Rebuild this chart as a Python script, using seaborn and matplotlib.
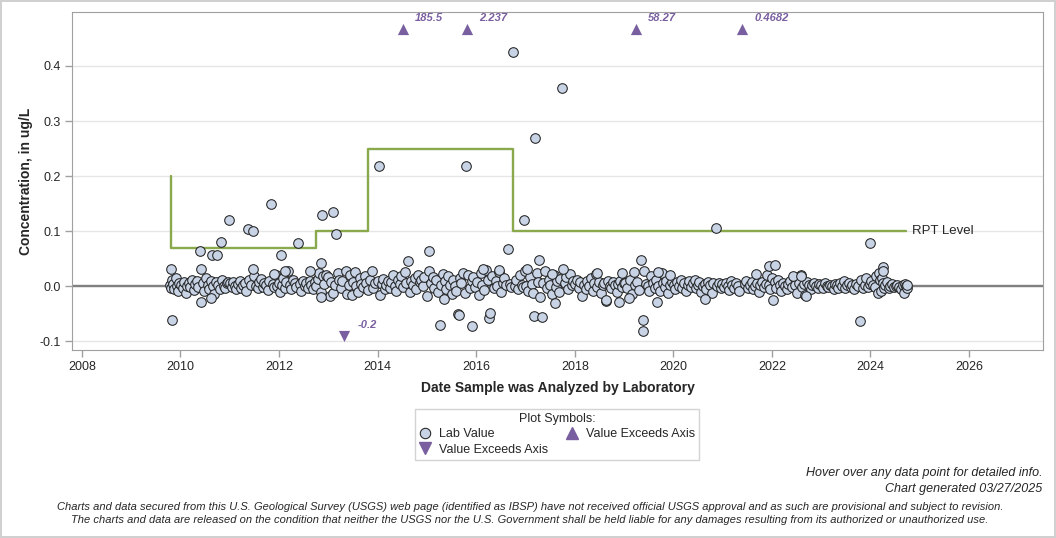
import numpy as np
import pandas as pd
import seaborn as sns
import matplotlib.pyplot as plt
from matplotlib.lines import Line2D

# ---- data (decimal years, ug/L) ----
bulk_2009_t = [2009.78, 2009.80, 2009.82, 2009.85, 2009.87, 2009.90, 2009.93, 2009.95, 2009.98]
bulk_2009_v = [0.002, -0.003, 0.011, 0.004, -0.006, 0.015, 0.001, -0.008, 0.005]
bulk_2010_t = [.02, .05, .08, .11, .14, .17, .20, .24, .27, .30, .33, .36, .45, .48, .52, .55, .58, .61, .66, .69, .72, .77, .80, .85, .88, .91, .94, .97]
bulk_2010_v = [0.003, -0.004, 0.008, -0.012, 0.001, 0.006, -0.002, 0.012, -0.007, 0.004, 0.010, -0.001, 0.005, -0.009, 0.014, 0.002, -0.005, 0.009, 0.000, -0.014, 0.007, 0.003, -0.006, 0.011, 0.001, -0.003, 0.006, 0.008]
bulk_2011_t = [.01, .04, .07, .10, .13, .17, .20, .23, .27, .30, .33, .40, .43, .50, .53, .57, .60, .63, .67, .70, .73, .77, .80, .87, .90, .93, .96, .99]
bulk_2011_v = [0.005, -0.002, 0.007, 0.001, -0.006, 0.004, 0.009, -0.003, 0.002, 0.006, -0.008, 0.011, 0.003, 0.018, 0.000, -0.004, 0.007, 0.013, -0.001, 0.005, 0.002, -0.007, 0.009, 0.004, -0.002, 0.020, 0.001, 0.006]
bulk_2012_t = [.02, .06, .09, .12, .15, .19, .22, .25, .29, .32, .35, .42, .45, .49, .52, .55, .59, .62, .65, .69, .72, .75, .79, .82, .85, .89, .92, .95]
bulk_2012_v = [-0.010, 0.003, 0.015, -0.004, 0.008, 0.027, 0.002, -0.006, 0.012, 0.005, -0.001, 0.004, -0.008, 0.009, 0.001, 0.006, -0.003, 0.010, 0.002, -0.005, 0.007, 0.000, 0.013, 0.024, -0.011, 0.018, 0.004, 0.020]
bulk_2013_t = [.00, .03, .06, .10, .13, .19, .22, .25, .28, .35, .38, .41, .44, .48, .51, .54, .57, .61, .64, .67, .71, .74, .77, .81, .84, .88, .91, .95]
bulk_2013_v = [0.016, -0.018, 0.008, -0.012, 0.002, 0.024, 0.012, -0.004, 0.009, 0.028, -0.014, 0.003, 0.021, -0.016, 0.007, 0.026, 0.001, -0.010, 0.014, 0.004, -0.002, 0.019, 0.006, -0.007, 0.011, 0.028, -0.003, 0.005]
bulk_2014_t = [.01, .05, .08, .11, .15, .18, .21, .25, .28, .31, .35, .38, .41, .45, .48, .51, .55, .58, .65, .68, .71, .75, .78, .81, .85, .88, .92, .95]
bulk_2014_v = [0.009, -0.016, 0.004, 0.013, -0.006, 0.002, 0.010, -0.003, 0.007, 0.021, 0.001, -0.008, 0.012, 0.004, 0.018, -0.002, 0.025, 0.006, -0.011, 0.009, 0.003, 0.014, -0.005, 0.020, 0.007, 0.011, 0.001, 0.016]
bulk_2015_t = [.01, .05, .08, .12, .15, .19, .22, .29, .32, .36, .39, .43, .46, .50, .53, .57, .60, .67, .70, .74, .77, .84, .87, .91, .94, .98]
bulk_2015_v = [-0.018, 0.028, 0.006, 0.017, -0.003, 0.011, -0.010, 0.002, 0.022, 0.009, -0.006, 0.019, 0.003, -0.014, 0.012, 0.000, -0.008, 0.015, 0.005, 0.024, -0.012, 0.020, -0.003, 0.009, 0.016, -0.001]
bulk_2016_t = [.02, .05, .09, .12, .16, .19, .23, .33, .36, .40, .43, .47, .50, .54, .57, .61, .68, .71, .78, .81, .85, .88, .92, .95, .99]
bulk_2016_v = [0.008, -0.016, 0.024, 0.003, -0.007, 0.030, 0.012, 0.018, -0.004, 0.009, 0.001, 0.026, -0.010, 0.006, 0.015, 0.002, 0.004, -0.002, 0.000, 0.011, -0.005, 0.020, 0.003, -0.001, 0.027]
bulk_2017_t = [.02, .06, .09, .13, .16, .23, .26, .30, .36, .40, .43, .47, .50, .54, .57, .61, .64, .68, .71, .80, .83, .87, .90, .94, .97]
bulk_2017_v = [0.001, -0.008, 0.016, 0.004, -0.013, 0.024, 0.008, -0.019, 0.006, 0.028, -0.004, 0.011, 0.002, -0.015, 0.020, -0.002, 0.009, -0.011, 0.013, 0.005, 0.017, -0.006, 0.022, 0.003, 0.010]
bulk_2018_t = [.01, .04, .08, .11, .15, .18, .22, .25, .29, .32, .36, .39, .43, .46, .50, .53, .57, .60, .64, .67, .71, .74, .78, .81, .85, .88, .92, .95, .99]
bulk_2018_v = [0.004, 0.012, -0.003, 0.007, -0.017, 0.002, -0.006, 0.009, 0.001, 0.014, -0.009, 0.005, 0.022, -0.002, 0.008, -0.013, 0.003, 0.006, -0.027, 0.010, 0.000, -0.004, 0.007, 0.002, -0.011, 0.004, 0.009, -0.001, 0.005]
bulk_2019_t = [.02, .06, .13, .16, .20, .23, .27, .30, .41, .44, .48, .51, .55, .58, .62, .65, .69, .72, .76, .79, .83, .86, .90, .93, .97]
bulk_2019_v = [0.006, -0.004, 0.011, -0.015, 0.025, 0.003, 0.008, -0.007, 0.027, 0.004, 0.001, -0.009, 0.019, 0.006, -0.003, 0.012, 0.000, -0.008, 0.024, 0.005, -0.002, 0.009, -0.012, 0.003, 0.007]
bulk_2020_t = [.01, .04, .08, .11, .15, .18, .22, .25, .29, .32, .36, .39, .43, .46, .50, .53, .57, .60, .64, .67, .71, .74, .78, .81, .89, .92, .96, .99]
bulk_2020_v = [0.003, -0.005, 0.008, 0.001, 0.011, -0.003, 0.006, -0.008, 0.002, 0.009, -0.001, 0.005, 0.012, -0.004, 0.003, 0.007, -0.010, 0.001, 0.004, -0.006, 0.008, 0.002, -0.012, 0.005, 0.000, 0.006, -0.003, 0.004]
bulk_2021_t = [.03, .06, .10, .13, .17, .20, .24, .27, .31, .34, .45, .48, .52, .55, .59, .62, .66, .69, .73, .76, .80, .83, .87, .90, .94, .97]
bulk_2021_v = [-0.002, 0.005, 0.001, -0.007, 0.009, 0.003, -0.004, 0.006, 0.000, -0.009, 0.004, 0.010, -0.003, 0.002, 0.007, -0.006, 0.001, 0.005, -0.011, 0.003, 0.008, -0.001, 0.004, 0.020, 0.002, -0.005]
bulk_2022_t = [.01, .06, .09, .12, .16, .19, .23, .26, .30, .33, .37, .40, .44, .47, .51, .54, .58, .61, .65, .68, .72, .75, .79, .82, .86, .89, .93, .96]
bulk_2022_v = [0.015, 0.008, -0.004, 0.012, 0.003, -0.009, 0.006, 0.001, -0.006, 0.004, 0.009, -0.002, 0.017, 0.002, -0.012, 0.005, 0.020, -0.001, 0.004, -0.016, 0.007, 0.002, -0.005, 0.003, 0.006, 0.000, -0.003, 0.004]
bulk_2023_t = [.00, .04, .07, .11, .14, .18, .21, .25, .28, .32, .35, .39, .42, .46, .49, .53, .56, .60, .63, .67, .70, .74, .81, .84, .88, .91, .95, .98]
bulk_2023_v = [0.002, -0.004, 0.005, 0.001, -0.002, 0.003, 0.000, -0.005, 0.004, 0.002, -0.003, 0.006, 0.001, 0.009, -0.004, 0.003, 0.005, -0.001, 0.002, -0.006, 0.004, 0.001, 0.011, -0.003, 0.002, 0.015, -0.002, 0.004]
bulk_2024_t = [.02, .05, .09, .12, .15, .18, .20, .22, .24, .26, .28, .30, .33, .37, .40, .44, .47, .51, .54, .58, .61, .65, .68, .70, .72, .74, .75]
bulk_2024_v = [0.010, 0.003, -0.002, 0.018, -0.012, 0.024, 0.011, -0.008, 0.015, 0.005, -0.004, 0.002, 0.008, -0.003, 0.001, 0.004, -0.002, 0.000, 0.003, -0.001, -0.005, 0.002, -0.012, 0.004, 0.001, -0.003, 0.002]

outlier_t = [2009.81, 2009.83, 2010.39, 2010.41, 2010.41, 2010.62, 2010.64, 2010.74, 2010.82, 2010.98,
             2011.37, 2011.47, 2011.47, 2011.83, 2011.90, 2012.04, 2012.12, 2012.38, 2012.62, 2012.87,
             2013.09, 2013.15, 2012.85, 2012.85, 2014.02, 2014.61, 2015.04, 2015.26, 2015.34, 2015.63,
             2015.66, 2015.79, 2015.91, 2016.26, 2016.28, 2016.64, 2016.74, 2016.97, 2017.17, 2017.19,
             2017.27, 2017.33, 2017.59, 2017.74, 2017.76, 2017.53, 2016.47, 2016.14, 2017.03, 2018.63,
             2018.89, 2019.10, 2019.34, 2019.38, 2019.38, 2019.66, 2020.86, 2020.64, 2021.94, 2022.06,
             2022.02, 2022.69, 2023.78, 2024.00, 2024.25, 2024.25, 2018.45, 2018.96, 2019.68, 2019.93,
             2021.67, 2022.42, 2022.58]
outlier_v = [0.031, -0.062, 0.063, 0.032, -0.029, -0.022, 0.057, 0.056, 0.080, 0.120,
             0.103, 0.100, 0.031, 0.150, 0.022, 0.056, 0.027, 0.078, 0.027, 0.130,
             0.135, 0.095, 0.042, -0.020, 0.218, 0.045, 0.063, -0.071, -0.024, -0.051,
             -0.053, 0.218, -0.073, -0.058, -0.049, 0.067, 0.425, 0.120, -0.054, 0.270,
             0.047, -0.056, -0.031, 0.360, 0.032, 0.022, 0.029, 0.031, 0.031, -0.025,
             -0.028, -0.022, 0.047, -0.061, -0.082, -0.028, 0.105, -0.024, 0.036, 0.038,
             -0.025, -0.017, -0.064, 0.078, 0.035, 0.027, 0.024, 0.024, 0.025, 0.021,
             0.022, 0.018, 0.018]

# values beyond the axis range
exceed_hi_t = [2014.51, 2015.81, 2019.24, 2021.39]
exceed_hi_lbl = ["185.5", "2.237", "58.27", "0.4682"]
exceed_lo_t = [2013.31]
exceed_lo_lbl = ["-0.2"]

# RPT level steps
rpt_t = [2009.80, 2009.80, 2012.75, 2013.80, 2016.74, 2024.73]
rpt_v = [0.20, 0.07, 0.10, 0.25, 0.10, 0.10]

bulk = [(2009, bulk_2009_t, bulk_2009_v)] + [
    (y, [y + d for d in t], v) for y, t, v in [
        (2010, bulk_2010_t, bulk_2010_v), (2011, bulk_2011_t, bulk_2011_v),
        (2012, bulk_2012_t, bulk_2012_v), (2013, bulk_2013_t, bulk_2013_v),
        (2014, bulk_2014_t, bulk_2014_v), (2015, bulk_2015_t, bulk_2015_v),
        (2016, bulk_2016_t, bulk_2016_v), (2017, bulk_2017_t, bulk_2017_v),
        (2018, bulk_2018_t, bulk_2018_v), (2019, bulk_2019_t, bulk_2019_v),
        (2020, bulk_2020_t, bulk_2020_v), (2021, bulk_2021_t, bulk_2021_v),
        (2022, bulk_2022_t, bulk_2022_v), (2023, bulk_2023_t, bulk_2023_v),
        (2024, bulk_2024_t, bulk_2024_v)]]
lab_t = [x for _, t, _ in bulk for x in t] + outlier_t
lab_v = [x for _, _, v in bulk for x in v] + outlier_v
lab = pd.DataFrame({"date": lab_t, "conc": lab_v})

# ---- style ----
sns.set_style("white")
plt.rcParams["font.family"] = ["Liberation Sans", "DejaVu Sans"]
PT_FILL = "#c8d4e6"
PURPLE = "#7a5fa0"
GREEN = "#8aa84c"
HI_MARK, LO_MARK = 0.467, -0.091

fig = plt.figure(figsize=(10.56, 5.38), dpi=100, linewidth=1.5, edgecolor="#d0d0d0")
ax = fig.add_axes([0.0682, 0.3494, 0.9195, 0.6283])

ax.axhline(0, color="#808080", lw=1.7, zorder=1)
sns.lineplot(x=rpt_t, y=rpt_v, estimator=None, sort=False, drawstyle="steps-post",
             color=GREEN, lw=1.7, ax=ax, zorder=2)
ax.text(rpt_t[-1] + 0.12, rpt_v[-1], "RPT Level", va="center", ha="left", fontsize=9.5)

sns.scatterplot(data=lab, x="date", y="conc", s=48, color=PT_FILL, edgecolor="#222222",
                linewidth=0.75, ax=ax, zorder=3)
sns.scatterplot(x=exceed_hi_t, y=[HI_MARK] * len(exceed_hi_t), marker="^", s=65,
                color=PURPLE, linewidth=0, ax=ax, zorder=3)
sns.scatterplot(x=exceed_lo_t, y=[LO_MARK] * len(exceed_lo_t), marker="v", s=65,
                color=PURPLE, linewidth=0, ax=ax, zorder=3)
for t, lbl in zip(exceed_hi_t, exceed_hi_lbl):
    ax.annotate(lbl, (t, HI_MARK), xytext=(9, 8), textcoords="offset points",
                color=PURPLE, fontsize=8, fontweight="bold", fontstyle="italic", va="center")
for t, lbl in zip(exceed_lo_t, exceed_lo_lbl):
    ax.annotate(lbl, (t, LO_MARK), xytext=(10, 8), textcoords="offset points",
                color=PURPLE, fontsize=8, fontweight="bold", fontstyle="italic", va="center")

ax.set_xlim(2007.8, 2027.5)
ax.set_ylim(-0.116, 0.498)
ax.set_xticks(range(2008, 2027, 2))
ax.set_yticks([-0.1, 0.0, 0.1, 0.2, 0.3, 0.4])
ax.set_yticklabels(["-0.1", "0.0", "0.1", "0.2", "0.3", "0.4"])
ax.yaxis.grid(True, color="#e6e6e6", lw=1)
ax.set_axisbelow(True)
for s in ax.spines.values():
    s.set_color("#a0a0a0")
ax.tick_params(axis="both", labelsize=9, color="#a0a0a0", length=5, width=1, direction="out",
               left=True, bottom=True, pad=3)
ax.set_xlabel("Date Sample was Analyzed by Laboratory", fontsize=10, fontweight="bold", labelpad=6)
ax.set_ylabel("Concentration, in ug/L", fontsize=10, fontweight="bold", labelpad=5)

handles = [
    Line2D([], [], ls="none", marker="o", ms=7.5, mfc=PT_FILL, mec="#222222", mew=0.75, label="Lab Value"),
    Line2D([], [], ls="none", marker="v", ms=8, mfc=PURPLE, mec=PURPLE, label="Value Exceeds Axis"),
    Line2D([], [], ls="none", marker="^", ms=8, mfc=PURPLE, mec=PURPLE, label="Value Exceeds Axis"),
]
leg = fig.legend(handles=handles, ncol=2, loc="upper center", bbox_to_anchor=(0.5275, 0.24),
                 title="Plot Symbols:", fontsize=9, title_fontsize=9, frameon=True, fancybox=False,
                 edgecolor="#c8c8c8", handlelength=1.0, handletextpad=0.6, columnspacing=1.4,
                 labelspacing=0.25, borderpad=0.35, borderaxespad=0)
leg.get_frame().set_linewidth(1)

fig.text(0.987, 1 - 473 / 538, "Hover over any data point for detailed info.", ha="right", va="center",
         fontsize=9, fontstyle="italic")
fig.text(0.987, 1 - 489 / 538, "Chart generated 03/27/2025", ha="right", va="center",
         fontsize=9, fontstyle="italic")
fig.text(0.502, 1 - 507 / 538,
         "Charts and data secured from this U.S. Geological Survey (USGS) web page (identified as IBSP) have not received official USGS approval and as such are provisional and subject to revision.",
         ha="center", va="center", fontsize=8, fontstyle="italic")
fig.text(0.502, 1 - 520 / 538,
         "The charts and data are released on the condition that neither the USGS nor the U.S. Government shall be held liable for any damages resulting from its authorized or unauthorized use.",
         ha="center", va="center", fontsize=8, fontstyle="italic")

fig.savefig("out.png", dpi=100)
